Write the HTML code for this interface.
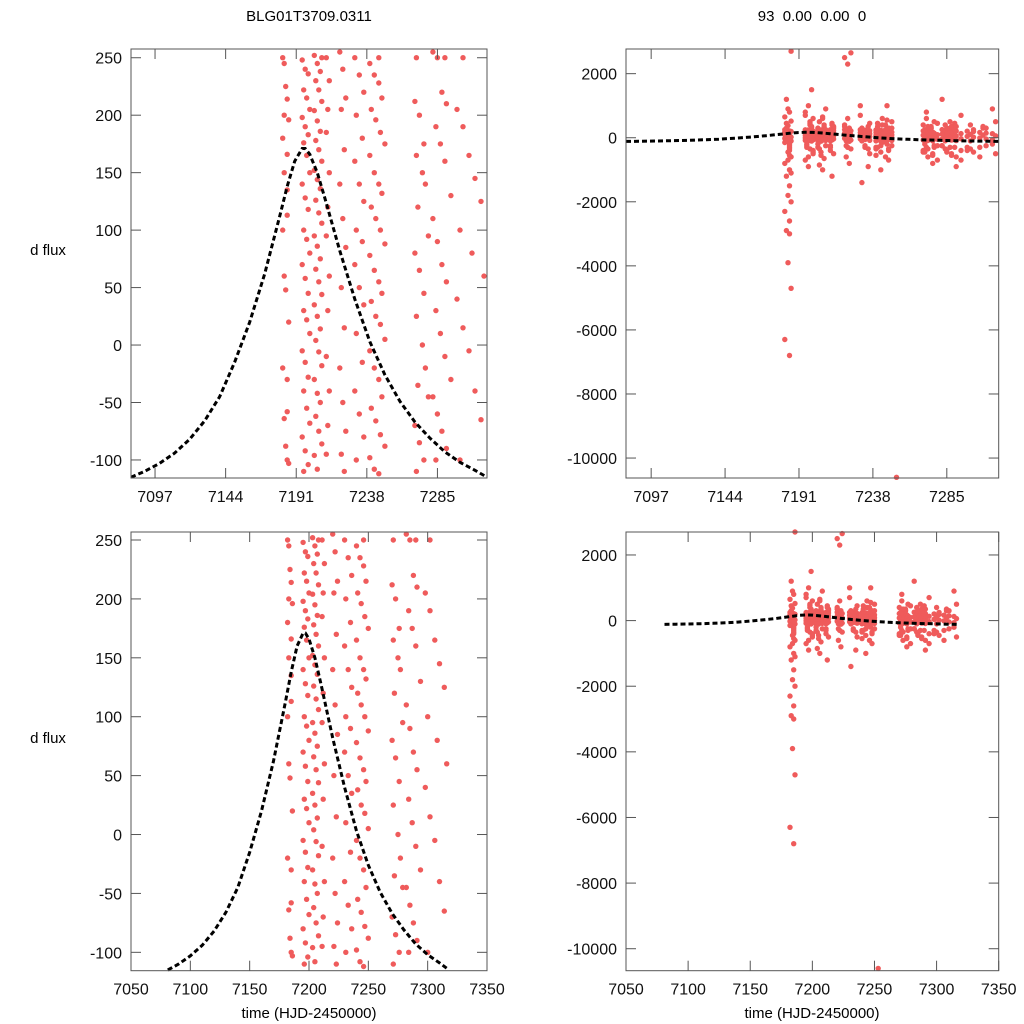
<!DOCTYPE html>
<html><head><meta charset="utf-8"><style>
html,body{margin:0;padding:0;background:#fff;width:1024px;height:1024px;overflow:hidden;}
svg{display:block;font-family:"Liberation Sans",sans-serif;}
</style></head><body>
<svg id="chart" width="1024" height="1024" viewBox="0 0 1024 1024">
<text x="309" y="21" font-size="15" text-anchor="middle">BLG01T3709.0311</text>
<text x="812" y="21" font-size="15" text-anchor="middle" xml:space="preserve">93  0.00  0.00  0</text>
<text x="48" y="255" font-size="15" text-anchor="middle">d flux</text>
<text x="48" y="743" font-size="15" text-anchor="middle">d flux</text>
<text x="309" y="1018" font-size="15" text-anchor="middle">time (HJD-2450000)</text>
<text x="812" y="1018" font-size="15" text-anchor="middle">time (HJD-2450000)</text>
</svg>
<script>
// model curve samples
const modelT = [7081,7090,7100,7110,7120,7130,7140,7150,7160,7170,7180,7185,7190,7195,7197,7200,7205,7210,7220,7230,7240,7250,7260,7270,7280,7290,7300,7310,7318];
const modelF = [-115,-110,-103,-94,-82,-66,-45,-15,20,62,112,138,160,171,171,166,150,128,82,40,3,-26,-49,-67,-81,-93,-102,-109,-115];
// observation columns: times cycle, flux values
const colA_t = [7183,7185,7184,7186,7182,7185];
const colA_f = [245,214,225,196,180,166,150,113,48,20,-20,-58,-64,-100,-88,-103,100,135,60,-30,380,520,650,800,1200,-300,-450,-600,-800,-1000,-1200,-1500,-1800,-2000,-2300,-2600,-2900,-3000,-3900,-4700,-6300,-6800,300,-200,-700,2700,-150,-400,200,-550,900,-1100,250,-250,450,-350];
const colB_t = [7195,7197,7199,7196,7198,7200];
const colB_f = [248,240,236,222,215,205,198,190,183,176,165,150,140,128,118,100,92,80,70,58,45,30,22,10,-5,-15,-28,-40,-55,-68,-80,-92,-104,-110,400,600,800,1000,1500,-200,-350,-500,-700,-900,300,-250,450,-400,700,-600,350,-300,500,-450];
const colC_t = [7203,7205,7207,7204,7206,7208];
const colC_f = [252,245,238,230,222,212,204,195,186,178,170,160,152,144,136,126,115,106,95,86,75,66,55,44,35,25,14,4,-6,-18,-30,-42,-50,-62,-75,-86,-96,-108,350,500,650,900,-300,-450,-650,-850,-1000,250,-200,-550,400,-350,600,-250,300];
const colD_t = [7211,7213,7212];
const colD_f = [250,230,205,185,150,120,95,60,30,-10,-40,-70,-95,300,450,-300,-500,-1200,-250,350,400,-400];
const colE_t = [7220,7222,7224,7221,7223];
const colE_f = [255,240,215,205,170,140,110,85,50,15,-20,-50,-75,-95,-110,400,600,-350,-600,-800,2500,2300,2650,-250,300,350,-300];
const colF_t = [7230,7233,7236,7231,7235];
const colF_f = [250,235,220,200,180,160,140,125,100,90,70,50,35,10,-15,-40,-60,-80,-100,350,700,-300,-500,-1400,-900,1000,-250,450,300,-350];
const colG_t = [7240,7243,7246,7248,7241,7244,7247,7250];
const colG_f = [245,235,228,215,205,196,185,175,165,150,140,132,120,110,100,88,78,65,55,45,38,25,18,5,-5,-20,-30,-45,-55,-66,-78,-88,-98,-108,-112,300,450,600,1000,-250,-350,-450,-600,-700,-300,400,-200,500,-550,-1000,250,-400,350,-150,550,300,-300,-250,400,-350];
const colH_t = [7270,7273,7276,7271,7275,7277,7272,7279];
const colH_f = [212,200,175,165,150,140,120,95,80,65,45,25,0,-20,-35,-45,-70,-85,-100,-110,300,500,800,-250,-400,-600,-800,-450,350,-300,600,-700,400,-350,-550,250,300,-250,-300,450,-450,350,-500,-200];
const colI_t = [7282,7285,7288,7291,7284,7287,7290,7294];
const colI_f = [255,250,220,210,190,175,160,130,110,90,70,55,30,10,-10,-30,-45,-60,-75,-90,-100,300,450,700,-250,-400,-550,-900,-350,500,-300,-700,1200,-450,350,-600,400,-300,250,-400,-250,300,-500,350];
const colJ_t = [7298,7302,7306,7310,7314,7300,7308,7316];
const colJ_f = [205,190,165,145,125,100,80,60,40,15,-5,-40,-65,-100,300,500,-300,-450,-600,-250,900,-350,350,-500,-400,250,-300,300,-200,400];
const colK_t = [7253];
const colK_f = [-10600];
const columns = [[colA_t,colA_f],[colB_t,colB_f],[colC_t,colC_f],[colD_t,colD_f],[colE_t,colE_f],[colF_t,colF_f],[colG_t,colG_f],[colH_t,colH_f],[colI_t,colI_f],[colJ_t,colJ_f],[colK_t,colK_f]];
const xTicksTop = [7097,7144,7191,7238,7285];
const xTicksBottom = [7050,7100,7150,7200,7250,7300,7350];
const yTicksSmall = [250,200,150,100,50,0,-50,-100];
const yTicksLarge = [2000,0,-2000,-4000,-6000,-8000,-10000];

const NS = 'http://www.w3.org/2000/svg';
const svg = document.getElementById('chart');
const panels = [
 {id:'tl',x0:131,x1:487,y0:49,y1:478,xd:[7081,7318],yd:[-115.7,257.6],xt:xTicksTop,yt:yTicksSmall},
 {id:'tr',x0:626,x1:998.7,y0:49,y1:478,xd:[7081,7318],yd:[-10623,2770],xt:xTicksTop,yt:yTicksLarge},
 {id:'bl',x0:131,x1:487,y0:532,y1:970.7,xd:[7050,7350],yd:[-115.6,256.8],xt:xTicksBottom,yt:yTicksSmall},
 {id:'br',x0:626,x1:998.7,y0:532,y1:970.7,xd:[7050,7350],yd:[-10670,2700],xt:xTicksBottom,yt:yTicksLarge}
];
function mk(tag, attrs, parent){const e=document.createElementNS(NS,tag);for(const k in attrs)e.setAttribute(k,attrs[k]);(parent||svg).appendChild(e);return e;}
const defs = mk('defs',{});
panels.forEach(p=>{
  const sx = v => p.x0 + (v-p.xd[0])/(p.xd[1]-p.xd[0])*(p.x1-p.x0);
  const sy = v => p.y1 - (v-p.yd[0])/(p.yd[1]-p.yd[0])*(p.y1-p.y0);
  const cp = mk('clipPath',{id:'clip-'+p.id},defs);
  mk('rect',{x:p.x0,y:p.y0-3,width:p.x1-p.x0,height:p.y1-p.y0+6},cp);
  const g = mk('g',{});
  
  
  const pts = mk('g',{'clip-path':'url(#clip-'+p.id+')'},g);
  
  
  columns.forEach(([ts,fs])=>{
    fs.forEach((f,i)=>{
      const c = mk('circle',{cx:sx(ts[i%ts.length]).toFixed(1),cy:sy(f).toFixed(1),r:2.7,fill:'#ef5b5b'},pts);
      
      
    });
  });
  const d = modelT.map((t,i)=>(i?'L':'M')+sx(t).toFixed(1)+','+sy(modelF[i]).toFixed(1)).join('');
  const line = mk('path',{d:d,fill:'none',stroke:'#000','stroke-width':3,'stroke-dasharray':'5,3','clip-path':'url(#clip-'+p.id+')'},g);
  
  
  const frame = mk('rect',{x:p.x0,y:p.y0,width:p.x1-p.x0,height:p.y1-p.y0,fill:'none',stroke:'#555','stroke-width':1},g);
  
  
  p.xt.forEach(v=>{
    const x=sx(v);
    mk('line',{x1:x,x2:x,y1:p.y1,y2:p.y1-10,stroke:'#555'},g);
    mk('line',{x1:x,x2:x,y1:p.y0,y2:p.y0+10,stroke:'#555'},g);
    const t=mk('text',{x:x,y:p.y1+24,'font-size':16,'text-anchor':'middle',fill:'#111'},g);
    t.textContent=v;
    
    
  });
  p.yt.forEach(v=>{
    const y=sy(v);
    mk('line',{x1:p.x0,x2:p.x0+10,y1:y,y2:y,stroke:'#555'},g);
    mk('line',{x1:p.x1,x2:p.x1-10,y1:y,y2:y,stroke:'#555'},g);
    const t=mk('text',{x:p.x0-9,y:y+6,'font-size':16,'text-anchor':'end',fill:'#111'},g);
    t.textContent=v;
    
    
  });
});
</script>
</body></html>
